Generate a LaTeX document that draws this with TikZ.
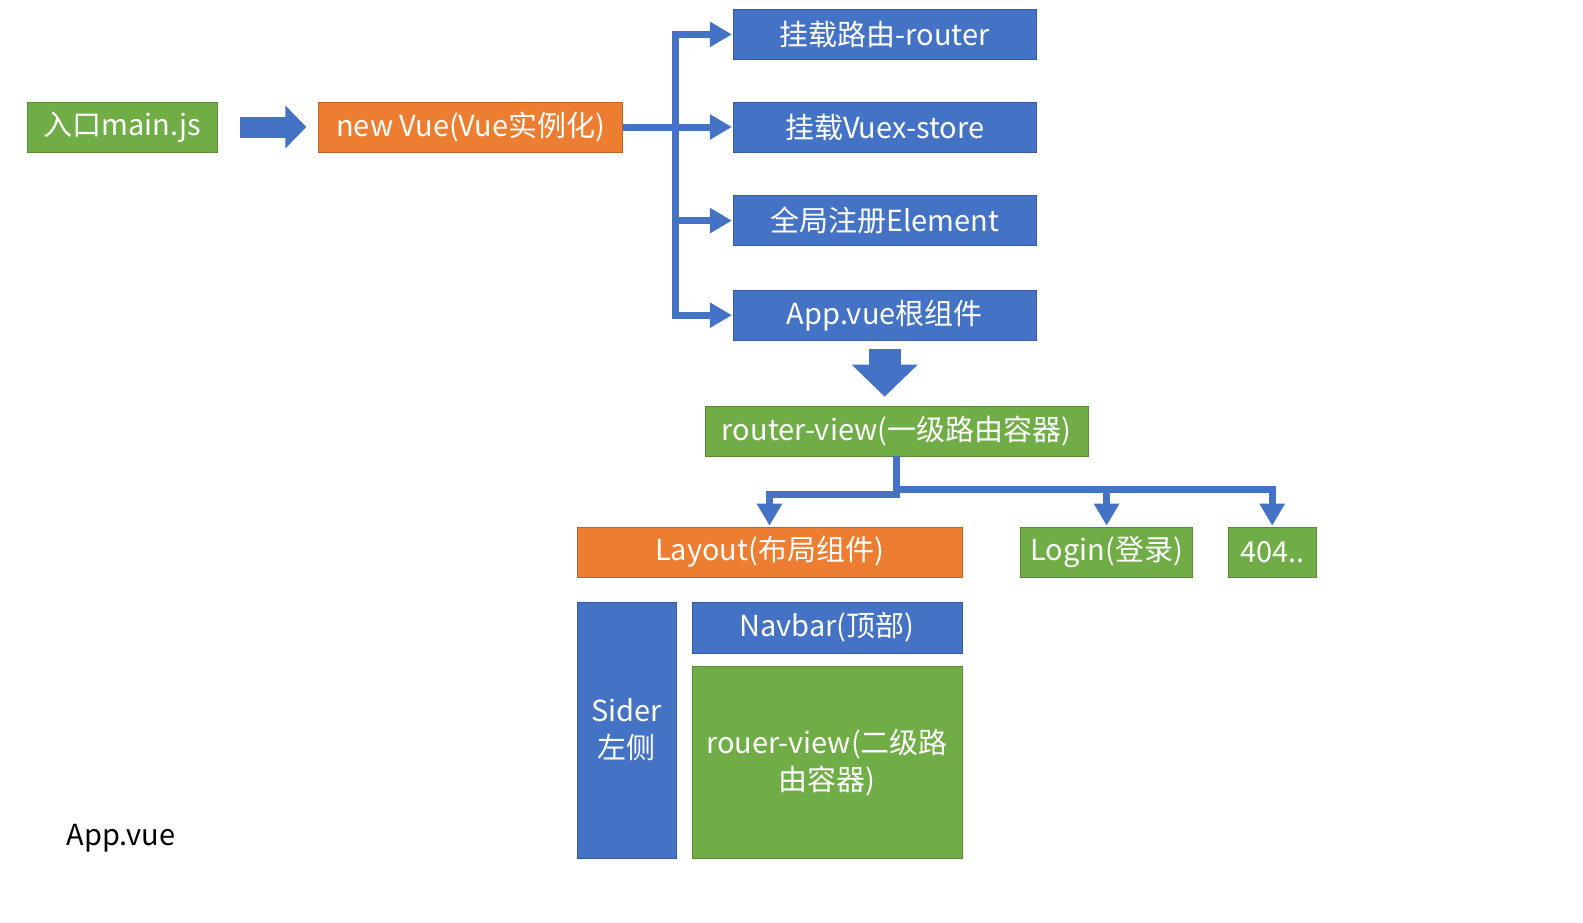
\documentclass[tikz,border=0pt]{standalone}
\usepackage{fontspec}
\newfontfamily\cjk{Noto Sans CJK SC}
\usepackage{xcolor}
\usetikzlibrary{positioning,arrows.meta}
\definecolor{VueBlue}{HTML}{4472C4}
\definecolor{VueGreen}{HTML}{70AD47}
\definecolor{VueOrange}{HTML}{ED7D31}

\begin{document}
\begin{tikzpicture}[x=1pt, y=-1pt,
                    every node/.style={inner sep=0pt, align=center, text=white,
                                       font=\cjk\fontsize{29}{37}\selectfont},
                    box/.style={draw=#1!80!black, line width=0.6pt, fill=#1,
                                minimum height=50pt},
                    branch/.style={draw=VueBlue, line width=7pt, line join=miter,
                                   -{Triangle[width=24pt,length=22pt]}, shorten >=1pt},
                    bigarrow/.style={draw=VueBlue, line width=#1,
                                     -{Triangle[width=2*#1,length=#1]}}]
\useasboundingbox (0,0) rectangle (1583,922);
\node[box=VueGreen, minimum width=190pt] (entry) at (122,127) {入口main.js};
\node[box=VueOrange, minimum width=304pt, right=101pt of entry] (vue) {new Vue(Vue实例化)};
\node[box=VueBlue, minimum width=303pt, right=110pt of vue] (store) {挂载Vuex-store};
\node[box=VueBlue, minimum width=303pt, above=42pt of store] (router) {挂载路由-router};
\node[box=VueBlue, minimum width=303pt, below=43pt of store] (element) {全局注册Element};
\node[box=VueBlue, minimum width=303pt, below=44pt of element] (app) {App.vue根组件};
\node[box=VueGreen, minimum width=383pt] (rview) at (896.5,431) {router-view(一级路由容器)};
\node[box=VueOrange, minimum width=385pt] (layout) at (769.5,552) {Layout(布局组件)};
\node[box=VueGreen, minimum width=172pt, right=58pt of layout] (login) {Login(登录)};
\node[box=VueGreen, minimum width=88pt, right=35pt of login] (notfound) {404..};
\node[box=VueBlue, minimum width=99pt, minimum height=256pt] (sider) at (626.5,730) {Sider\\左侧};
\node[box=VueBlue, minimum width=270pt, minimum height=51pt] (navbar) at (827,627.5) {Navbar(顶部)};
\node[box=VueGreen, minimum width=270pt, minimum height=192pt, below=13pt of navbar] (subview) {rouer-view(二级路\\由容器)};
\node[text=black] (caption) at (121,838) {App.vue};
% block arrows
\draw[bigarrow=21pt, shorten <=23pt, shorten >=12pt] (entry) -- (vue);
\draw[bigarrow=32pt, shorten <=8pt, shorten >=9pt] (app.south) -- (app.south |- rview.north);
% branches
\draw[branch] (vue.east) -- ++(53,0) |- (router.west);
\draw[branch] (vue.east) -- (store.west);
\draw[branch] (vue.east) -- ++(53,0) |- (element.west);
\draw[branch] (vue.east) -- ++(53,0) |- (app.west);
\draw[branch] (rview.south) -- ++(0,38) -| (layout.north);
\draw[branch] (rview.south) -- ++(0,33) -| (login.north);
\draw[branch] (rview.south) -- ++(0,33) -| (notfound.north);
\end{tikzpicture}
\end{document}
